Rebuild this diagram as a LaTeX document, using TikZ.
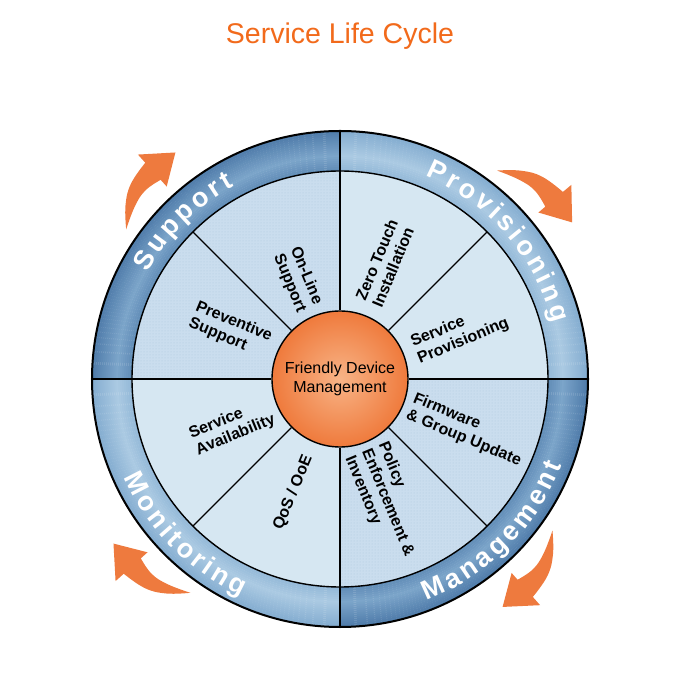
\documentclass[tikz,border=0pt]{standalone}
\usepackage{fontspec}
\setmainfont{Liberation Sans}
\usepackage{tikz}
\usetikzlibrary{decorations.text, patterns}
\definecolor{titleOrange}{HTML}{F26A1B}
\definecolor{arrowOrange}{HTML}{EE7A3E}
\definecolor{hubOrange}{HTML}{EF7A3C}
\definecolor{hubLight}{HTML}{F8B487}
\definecolor{secPlain}{HTML}{D6E7F2}
\definecolor{secDot}{HTML}{CADDEE}
\definecolor{dotBlue}{HTML}{AFC8DE}
\definecolor{ringDarkEdge}{HTML}{4875A5}
\definecolor{ringDarkMid}{HTML}{7CA5CA}
\definecolor{ringLightEdge}{HTML}{7EA8CD}
\definecolor{ringLightMid}{HTML}{ABCAE3}
% ring letters and the small gap between them
\newcommand\R{\bfseries\fontsize{27}{27}\selectfont}
\newcommand\G{\bfseries\fontsize{12.5}{12.5}\selectfont}

\begin{document}
\begin{tikzpicture}[
    x=1pt, y=1pt,
    seclabel/.style={font=\bfseries\fontsize{16}{18}\selectfont, align=left, inner sep=0pt},
    hub/.style={circle, draw=black, line width=1.4pt, minimum size=136pt,
                inner color=hubLight, outer color=hubOrange, align=center,
                font=\fontsize{16}{19}\selectfont},
    divider/.style={line width=1.4pt},
    ringtext/.style={decorate, decoration={text along path, text align=center,
                     text color=white, text={#1}}}
  ]
  \useasboundingbox (-340,-321) rectangle (340,379);
  \fill[white] (-340,-321) rectangle (340,379);

  % ── Title ───────────────────────────────────────────────────────────────
  \node[text=titleOrange, font=\fontsize{28.5}{32}\selectfont, anchor=base]
    (title) at (0,335) {Service Life Cycle};

  % ── Inner sectors ───────────────────────────────────────────────────────
  \fill[secPlain] (0,0) circle (208);
  \foreach \a in {90,270}
    \fill[secDot, postaction={pattern=dots, pattern color=dotBlue}]
      (0,0) -- (\a:208) arc[start angle=\a, end angle=\a+90, radius=208] -- cycle;

  % ── Outer ring, shaded in strips ────────────────────────────────────────
  \foreach \q/\cA/\cB in {0/ringLightEdge/ringLightMid, 90/ringDarkEdge/ringDarkMid,
                          180/ringLightEdge/ringLightMid, 270/ringDarkEdge/ringDarkMid}
    \foreach \r in {209,211,...,247} {
      \pgfmathtruncatemacro\m{max(0,100-abs(\r-223)*3.5)}
      \draw[line width=2.3pt, \cB!\m!\cA]
        (\q:\r) arc[start angle=\q, end angle=\q+90, radius=\r];
    }
  \draw[line width=2pt] (0,0) circle (248);
  \draw[line width=1.4pt] (0,0) circle (208);

  % ring labels (letter-spaced by hand)
  \path[ringtext={|\R|S|\G| |\R|u|\G| |\R|p|\G| |\R|p|\G| |\R|o|\G| |\R|r|\G| |\R|t}]
    (180:220) arc[start angle=180, end angle=90, radius=220];
  \path[ringtext={|\R|P|\G| |\R|r|\G| |\R|o|\G| |\R|v|\G| |\R|i|\G| |\R|s|\G| |\R|i|\G| |\R|o|\G| |\R|n|\G| |\R|i|\G| |\R|n|\G| |\R|g}]
    (86:220) arc[start angle=86, end angle=-4, radius=220];
  \path[ringtext={|\R|M|\G| |\R|a|\G| |\R|n|\G| |\R|a|\G| |\R|g|\G| |\R|e|\G| |\R|m|\G| |\R|e|\G| |\R|n|\G| |\R|t}]
    (270:238) arc[start angle=270, end angle=360, radius=238];
  \path[ringtext={|\R|M|\G| |\R|o|\G| |\R|n|\G| |\R|i|\G| |\R|t|\G| |\R|o|\G| |\R|r|\G| |\R|i|\G| |\R|n|\G| |\R|g}]
    (180:238) arc[start angle=180, end angle=270, radius=238];

  % ── Hub and spokes ──────────────────────────────────────────────────────
  \node[hub] (hub) at (0,0) {Friendly Device\\Management};
  \foreach \a in {0,90,180,270}
    \draw[divider] (hub.\a) -- (\a:248);
  \foreach \a in {45,135,225,315}
    \draw[divider] (hub.\a) -- (\a:208);

  % sector labels
  \node[seclabel, rotate=-67.5] (online)     at (113:108)   {On-Line\\Support};
  \node[seclabel, rotate=-22.5] (preventive) at (156:120)   {Preventive\\Support};
  \node[seclabel, rotate=67.5]  (zerotouch)  at (68.8:124)  {Zero Touch\\Installation};
  \node[seclabel, rotate=22.5]  (servprov)   at (21:128.5)  {Service\\Provisioning};
  \node[seclabel, rotate=-22.5] (firmware)   at (-21.9:137) {Firmware\\\& Group Update};
  \node[seclabel, rotate=-67.5] (policy)     at (-69:132.6) {Policy\\Enforcement \&\\Inventory};
  \node[seclabel, rotate=67.5]  (qos)        at (-112.4:123) {QoS / OoE};
  \node[seclabel, rotate=22.5]  (availability) at (-156:118) {Service\\Availability};

  % ── Curved arrows (clockwise) ───────────────────────────────────────────
  \foreach \a in {40,132,222,311.5}
    \fill[arrowOrange, rotate=\a]
      plot[smooth, tension=0.7] coordinates {(13:261) (9:276) (5:286) (0:291)}
      -- (0:302) -- (-6:280) -- (0:259)
      -- plot[smooth, tension=0.7] coordinates {(0:268) (4:271) (8:268) (13:261)}
      -- cycle;

\end{tikzpicture}
\end{document}
